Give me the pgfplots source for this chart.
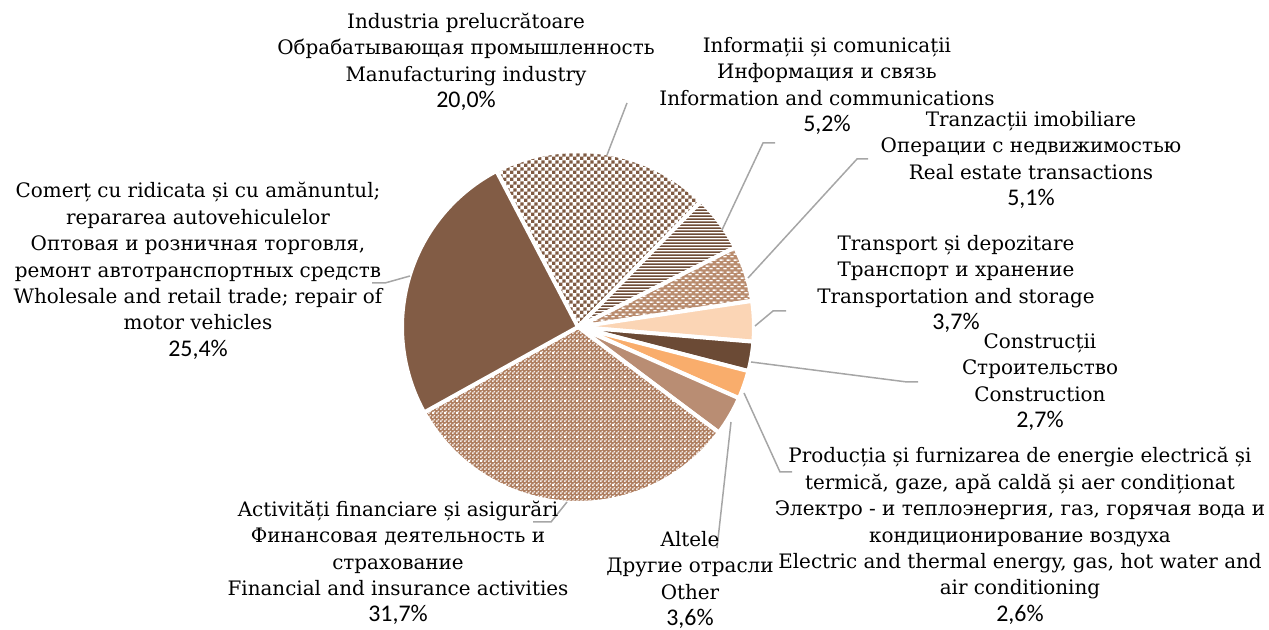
\documentclass[border=0pt]{standalone}
\usepackage{pgfplots}
\pgfplotsset{compat=1.18}
\usepackage{pgfplotstable}
\usetikzlibrary{patterns}
\usepackage{fontspec}
\setmainfont{DejaVu Serif}
\newfontfamily\pctfont{Carlito}

\definecolor{ctrade}{HTML}{825C45}
\definecolor{cmfg}{HTML}{7F5A42}
\definecolor{cinfo}{HTML}{6E4B35}
\definecolor{creal}{HTML}{B98C6E}
\definecolor{ctrans}{HTML}{FBD5B5}
\definecolor{cconstr}{HTML}{6B4A35}
\definecolor{cenergy}{HTML}{F9AD6C}
\definecolor{cother}{HTML}{B98D73}
\definecolor{cfin}{HTML}{AE7D5E}
\definecolor{cleader}{HTML}{A6A6A6}

\pgfdeclarepatternformonly{mfgsq}{\pgfpointorigin}{\pgfqpoint{3.6bp}{3.6bp}}{\pgfqpoint{3.6bp}{3.6bp}}{%
  \pgfpathrectangle{\pgfqpoint{0bp}{0bp}}{\pgfqpoint{1.85bp}{1.85bp}}%
  \pgfpathrectangle{\pgfqpoint{1.8bp}{1.8bp}}{\pgfqpoint{1.85bp}{1.85bp}}%
  \pgfusepath{fill}}
\pgfdeclarepatternformonly{hlinesx}{\pgfpointorigin}{\pgfqpoint{1bp}{1.7bp}}{\pgfqpoint{1bp}{1.7bp}}{%
  \pgfpathrectangle{\pgfqpoint{-0.1bp}{0bp}}{\pgfqpoint{1.2bp}{0.9bp}}%
  \pgfusepath{fill}}
\pgfdeclarepatternformonly{wdash}{\pgfpointorigin}{\pgfqpoint{3.6bp}{3bp}}{\pgfqpoint{3.6bp}{3bp}}{%
  \pgfpathrectangle{\pgfqpoint{0.2bp}{0.3bp}}{\pgfqpoint{1.8bp}{0.8bp}}%
  \pgfpathrectangle{\pgfqpoint{2.0bp}{1.8bp}}{\pgfqpoint{1.6bp}{0.8bp}}%
  \pgfpathrectangle{\pgfqpoint{0bp}{1.8bp}}{\pgfqpoint{0.2bp}{0.8bp}}%
  \pgfusepath{fill}}
\pgfdeclarepatternformonly{fchecker}{\pgfpointorigin}{\pgfqpoint{2bp}{2bp}}{\pgfqpoint{2bp}{2bp}}{%
  \pgfpathrectangle{\pgfqpoint{0bp}{0bp}}{\pgfqpoint{1bp}{1bp}}%
  \pgfpathrectangle{\pgfqpoint{1bp}{1bp}}{\pgfqpoint{1bp}{1bp}}%
  \pgfusepath{fill}}
\pgfdeclarepatternformonly{fdots}{\pgfpointorigin}{\pgfqpoint{6bp}{6bp}}{\pgfqpoint{6bp}{6bp}}{%
  \pgfpathrectangle{\pgfqpoint{0bp}{0bp}}{\pgfqpoint{1.2bp}{1.2bp}}%
  \pgfusepath{fill}}

\tikzset{
  slice/.style={draw=white, line width=2bp, line join=round},
  slice mfg/.style={preaction={fill=white}, pattern=mfgsq, pattern color=cmfg},
  slice info/.style={preaction={fill=white}, pattern=hlinesx, pattern color=cinfo},
  slice real/.style={preaction={fill=creal}, pattern=wdash, pattern color=white},
  slice trans/.style={fill=ctrans},
  slice constr/.style={fill=cconstr},
  slice energy/.style={fill=cenergy},
  slice other/.style={fill=cother},
  slice fin/.style={preaction={fill=cfin}, pattern=fchecker, pattern color=white!85!cfin, postaction={pattern=fdots, pattern color=white}},
  slice trade/.style={fill=ctrade},
  lbl/.style={font=\fontsize{10}{13.25}\selectfont, align=center, inner sep=0pt, text=black},
  leader/.style={draw=cleader, line width=0.75bp},
}
\newcommand{\pct}[1]{{\pctfont\fontsize{12}{13.25}\selectfont #1}}

\pgfplotstableread{
name value
mfg 20.0
info 5.2
real 5.1
trans 3.7
constr 2.7
energy 2.6
other 3.6
fin 31.7
trade 25.4
}\piedata

\begin{document}
\begin{tikzpicture}
\begin{axis}[width=634.5bp, height=315bp, scale only axis,
  xmin=0, xmax=1269, ymin=0, ymax=630, hide axis, clip=false]
\pgfplotsextra{%
  \pgfplotstablegetrowsof{\piedata}%
  \pgfmathtruncatemacro\lastrow{\pgfplotsretval-1}%
  \gdef\curang{117.6}%
  \foreach \i in {0,...,\lastrow}{%
    \pgfplotstablegetelem{\i}{value}\of\piedata
    \pgfmathsetmacro\endang{\curang-3.6*\pgfplotsretval}%
    \pgfplotstablegetelem{\i}{name}\of\piedata
    \edef\slicename{\pgfplotsretval}%
    \path[slice, slice \slicename] (axis cs:578,303) -- (axis cs:{578+176*cos(\curang)},{303+176*sin(\curang)}) arc[start angle=\curang, end angle=\endang, radius=88bp] -- cycle;
    \xdef\curang{\endang}%
  }%
  % leader lines
  \draw[leader] (axis cs:627,527) -- (axis cs:607,475);
  \draw[leader] (axis cs:775,487) -- (axis cs:763,487) -- (axis cs:722,400);
  \draw[leader] (axis cs:868,471) -- (axis cs:857,471) -- (axis cs:748,352);
  \draw[leader] (axis cs:786,319) -- (axis cs:773,319) -- (axis cs:755,304);
  \draw[leader] (axis cs:751,268) -- (axis cs:907,248) -- (axis cs:918,248);
  \draw[leader] (axis cs:744,237) -- (axis cs:780,158) -- (axis cs:792,158);
  \draw[leader] (axis cs:731,208) -- (axis cs:717,82);
  \draw[leader] (axis cs:567,128) -- (axis cs:551,108) -- (axis cs:533,108);
  \draw[leader] (axis cs:410,354) -- (axis cs:385,347) -- (axis cs:372,347);
  % labels
  \node[lbl] at (axis cs:466,568) {Industria prelucrătoare\\Обрабатывающая промышленность\\Manufacturing industry\\\pct{20,0\%}};
  \node[lbl] at (axis cs:827,544) {Informații și comunicații\\Информация и связь\\Information and communications\\\pct{5,2\%}};
  \node[lbl] at (axis cs:1031,470) {Tranzacții imobiliare\\Операции с недвижимостью\\Real estate transactions\\\pct{5,1\%}};
  \node[lbl] at (axis cs:956,346) {Transport și depozitare\\Транспорт и хранение\\Transportation and storage\\\pct{3,7\%}};
  \node[lbl] at (axis cs:1040,248) {Construcții\\Строительство\\Construction\\\pct{2,7\%}};
  \node[lbl] at (axis cs:1020,94) {Producția și furnizarea de energie electrică și\\termică, gaze, apă caldă și aer condiționat\\Электро - и теплоэнергия, газ, горячая вода и\\кондиционирование воздуха\\Electric and thermal energy, gas, hot water and\\air conditioning\\\pct{2,6\%}};
  \node[lbl] at (axis cs:690,50) {Altele\\Другие отрасли\\Other\\\pct{3,6\%}};
  \node[lbl] at (axis cs:398,67) {Activități financiare și asigurări\\Финансовая деятельность и\\страхование\\Financial and insurance activities\\\pct{31,7\%}};
  \node[lbl] at (axis cs:198,359) {Comerț cu ridicata și cu amănuntul;\\repararea autovehiculelor\\Оптовая и розничная торговля,\\ремонт автотранспортных средств\\Wholesale and retail trade; repair of\\motor vehicles\\\pct{25,4\%}};
}
\end{axis}
\pgfresetboundingbox
\useasboundingbox (current axis.south west) rectangle (current axis.north east);
\end{tikzpicture}
\end{document}
